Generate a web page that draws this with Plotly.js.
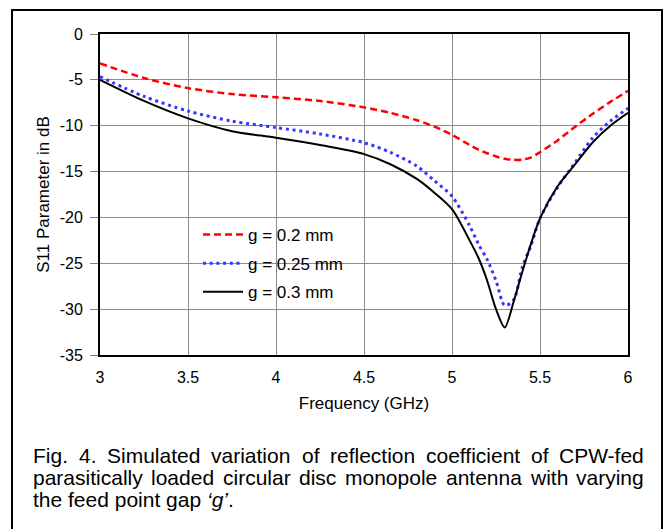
<!DOCTYPE html>
<html>
<head>
<meta charset="utf-8">
<script src="https://cdn.plot.ly/plotly-3.0.1.min.js"></script>
<style>
  html, body { margin: 0; padding: 0; background: #fff; }
  #chart { width: 664px; height: 529px; }
</style>
</head>
<body>
<div id="chart"></div>
<script>
// ---- data ----
const freq = [3.0, 3.25, 3.5, 3.75, 4.0, 4.25, 4.5, 4.65, 4.8, 4.9, 5.0, 5.1, 5.15, 5.2, 5.25, 5.3, 5.35, 5.4, 5.45, 5.5, 5.6, 5.7, 5.8, 5.9, 6.0];
const s11_g020 = [-3.2, -4.8, -5.9, -6.55, -6.9, -7.3, -8.0, -8.6, -9.4, -10.1, -11.0, -12.1, -12.6, -13.0, -13.35, -13.6, -13.72, -13.7, -13.45, -12.9, -11.6, -10.1, -8.7, -7.4, -6.2];
const s11_g025 = [-4.65, -6.8, -8.4, -9.5, -10.2, -10.9, -11.85, -12.9, -14.4, -16.0, -17.7, -20.9, -22.9, -24.6, -26.9, -29.6, -29.0, -25.4, -23.0, -20.1, -16.7, -14.0, -11.3, -9.5, -8.1];
const s11_g030 = [-5.0, -7.3, -9.2, -10.6, -11.3, -12.1, -13.1, -14.2, -15.8, -17.3, -19.1, -22.5, -24.4, -26.9, -30.0, -32.0, -29.2, -25.9, -22.8, -20.1, -16.6, -14.2, -11.8, -10.0, -8.6];
const seriesNames = ['g = 0.2 mm', 'g = 0.25 mm', 'g = 0.3 mm'];
const xTicks = [3, 3.5, 4, 4.5, 5, 5.5, 6];
const xTickText = ['3', '3.5', '4', '4.5', '5', '5.5', '6'];
const yTicks = [0, -5, -10, -15, -20, -25, -30, -35];
const yTickText = ['0', '-5', '-10', '-15', '-20', '-25', '-30', '-35'];
const xTitle = 'Frequency (GHz)';
const yTitle = 'S11 Parameter in dB';
const captionLine1 = 'Fig. 4. Simulated variation of reflection coefficient of CPW-fed';
const captionLine2 = 'parasitically loaded circular disc monopole antenna with varying';
const captionLine3 = 'the feed point gap <i>‘g’</i>.';

// ---- layout geometry ----
const W = 664, H = 529;
const M = { l: 100, r: 36, t: 34, b: 174 };
const PW = W - M.l - M.r, PH = H - M.t - M.b;
const px2x = p => (p - M.l) / PW;
const py2y = p => (H - M.b - p) / PH;
const FONT = 'Liberation Sans, Arial, sans-serif';

const traces = [
  { x: freq, y: s11_g020, name: seriesNames[0], mode: 'lines', legendgroup: 'a',
    line: { color: '#ff0000', width: 2.5, dash: '7px,4px', shape: 'spline', smoothing: 0.8 } },
  { x: freq, y: s11_g025, name: seriesNames[1], mode: 'lines', legendgroup: 'b',
    line: { color: '#3535ff', width: 3, dash: '3px,3.7px', shape: 'spline', smoothing: 0.8 } },
  { x: freq, y: s11_g030, name: seriesNames[2], mode: 'lines', legendgroup: 'c',
    line: { color: '#000000', width: 2, shape: 'spline', smoothing: 0.8 } }
];

// justified caption lines built as word annotations
const cv = document.createElement('canvas').getContext('2d');
const capSize = 21;
cv.font = capSize + 'px "Liberation Sans"';
const annotations = [];
function justified(line, py, left, right) {
  const words = line.split(' ');
  const widths = words.map(w => cv.measureText(w).width);
  const total = widths.reduce((a, b) => a + b, 0);
  const gap = (right - left - total) / (words.length - 1);
  let x = left;
  words.forEach((w, i) => {
    annotations.push({ text: w, xref: 'paper', yref: 'paper', x: px2x(x), y: py2y(py),
      xanchor: 'left', yanchor: 'middle', showarrow: false, borderpad: 0,
      font: { family: FONT, size: capSize, color: '#000' } });
    x += widths[i] + gap;
  });
}
justified(captionLine1, 455, 32, 643);
justified(captionLine2, 477, 32, 643);
annotations.push({ text: captionLine3, xref: 'paper', yref: 'paper', x: px2x(32), y: py2y(499),
  xanchor: 'left', yanchor: 'middle', showarrow: false, borderpad: 0,
  font: { family: FONT, size: capSize, color: '#000' } });

const layout = {
  width: W, height: H,
  margin: M,
  paper_bgcolor: '#ffffff', plot_bgcolor: '#ffffff',
  font: { family: FONT, color: '#000' },
  showlegend: true,
  legend: { x: px2x(198), y: py2y(217), xanchor: 'left', yanchor: 'top',
    bgcolor: 'rgba(0,0,0,0)', borderwidth: 0, font: { family: FONT, size: 17, color: '#000' },
    tracegroupgap: 3.5, itemwidth: 40 },
  xaxis: {
    range: [3, 6], tickvals: xTicks, ticktext: xTickText,
    showgrid: true, gridcolor: '#8c8c8c', gridwidth: 1, zeroline: false,
    showline: true, mirror: true, linecolor: '#000', linewidth: 2,
    ticks: '', ticklabelstandoff: 7,
    tickfont: { family: FONT, size: 16, color: '#000' },
    title: { text: xTitle, font: { family: FONT, size: 17, color: '#000' }, standoff: 12 },
    fixedrange: true
  },
  yaxis: {
    range: [-35, 0], tickvals: yTicks, ticktext: yTickText,
    showgrid: true, gridcolor: '#8c8c8c', gridwidth: 1, zeroline: false,
    showline: true, mirror: true, linecolor: '#000', linewidth: 2,
    ticks: 'outside', ticklen: 8, tickcolor: '#808080', tickwidth: 1, ticklabelstandoff: 4,
    tickfont: { family: FONT, size: 16, color: '#000' },
    title: { text: yTitle, font: { family: FONT, size: 17, color: '#000' }, standoff: 6 },
    fixedrange: true
  },
  shapes: [
    { type: 'rect', xref: 'paper', yref: 'paper', x0: px2x(12), x1: px2x(662), y0: py2y(10), y1: py2y(545),
      line: { color: '#000', width: 2 }, fillcolor: 'rgba(0,0,0,0)', layer: 'above' }
  ],
  annotations: annotations
};

Plotly.newPlot('chart', traces, layout, { displayModeBar: false, staticPlot: true });
</script>
</body>
</html>
